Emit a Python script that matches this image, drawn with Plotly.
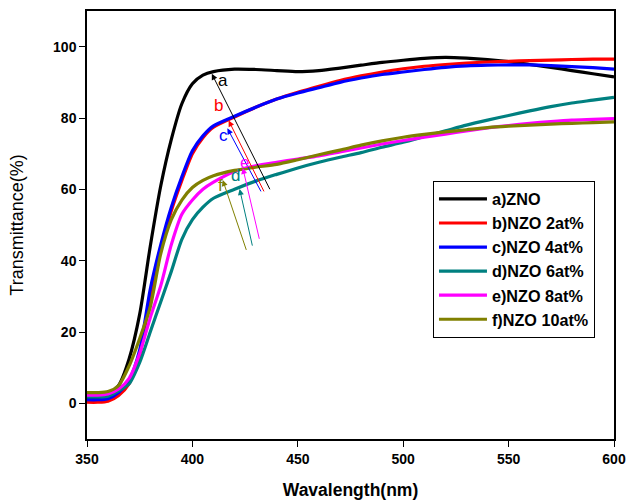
import plotly.graph_objects as go

wavelength = [350, 355, 360, 365, 370, 375, 380, 385, 390, 395, 400, 405, 410, 420, 430, 440,
              450, 460, 470, 480, 490, 500, 510, 520, 530, 540, 550, 560, 570, 580, 590, 600]

t_zno = [1.5, 1.5, 2.2, 5.0, 12.5, 25.0, 44.0, 61.0, 74.0, 84.0, 89.6, 92.0, 93.0, 93.7, 93.6, 93.3,
         93.0, 93.3, 94.0, 94.8, 95.6, 96.2, 96.7, 97.0, 96.8, 96.4, 95.8, 95.0, 94.2, 93.3, 92.4, 91.5]
t_nzo2 = [0.3, 0.3, 0.6, 2.2, 5.5, 13.5, 30.0, 43.0, 54.0, 62.5, 70.0, 74.5, 77.4, 80.3, 83.0, 85.3,
          87.2, 88.9, 90.5, 91.8, 92.9, 93.8, 94.5, 95.0, 95.4, 95.7, 95.9, 96.1, 96.2, 96.4, 96.5, 96.5]
t_nzo4 = [1.0, 1.0, 1.3, 3.0, 6.5, 15.0, 32.0, 44.5, 55.0, 63.5, 70.8, 75.0, 77.8, 80.5, 83.0, 85.3,
          87.0, 88.5, 90.0, 91.2, 92.2, 92.9, 93.6, 94.2, 94.6, 94.8, 94.9, 94.9, 94.7, 94.4, 94.1, 93.7]
t_nzo6 = [1.8, 1.8, 2.0, 3.5, 5.5, 11.5, 20.0, 28.5, 37.0, 46.0, 51.5, 55.0, 57.5, 60.0, 62.3, 64.2,
          66.0, 67.6, 69.0, 70.3, 71.8, 73.2, 74.8, 76.4, 78.0, 79.4, 80.7, 82.0, 83.2, 84.2, 85.0, 85.8]
t_nzo8 = [2.3, 2.3, 2.6, 4.0, 7.0, 14.0, 24.0, 33.0, 44.5, 53.0, 57.0, 60.0, 62.0, 65.0, 66.6, 67.6,
          68.5, 69.4, 70.5, 71.6, 72.7, 73.7, 74.6, 75.5, 76.4, 77.2, 77.9, 78.5, 79.0, 79.4, 79.6, 79.8]
t_nzo10 = [3.0, 3.0, 3.3, 5.0, 10.5, 18.2, 27.0, 42.0, 51.5, 57.0, 60.5, 62.5, 63.8, 65.3, 66.2, 67.0,
           68.3, 69.7, 71.0, 72.4, 73.6, 74.6, 75.4, 76.1, 76.7, 77.3, 77.7, 78.0, 78.3, 78.5, 78.7, 78.9]

series_names = ["a)ZNO", "b)NZO 2at%", "c)NZO 4at%", "d)NZO 6at%", "e)NZO 8at%", "f)NZO 10at%"]
series_values = [t_zno, t_nzo2, t_nzo4, t_nzo6, t_nzo8, t_nzo10]
colors = ["#000000", "#FF0000", "#0000FF", "#008080", "#FF00FF", "#808000"]

x_ticks = [350, 400, 450, 500, 550, 600]
y_ticks = [0, 20, 40, 60, 80, 100]

# label letters, arrow head (x, y), arrow tail (ax, ay), label position (lx, ly)
labels = ["a", "b", "c", "d", "e", "f"]
arrow_heads = [(409.2, 92.4), (417.2, 79.3), (416.6, 77.1), (422.4, 60.1), (423.9, 66.0), (414.4, 62.6)]
arrow_tails = [(437.1, 59.6), (434.3, 59.0), (432.9, 59.0), (428.6, 43.8), (431.9, 45.7), (425.8, 42.6)]
label_pos = [(414.4, 90.4), (412.6, 83.6), (414.8, 75.0), (420.4, 64.0), (424.8, 67.6), (413.2, 61.2)]

FONT = "Arial, Liberation Sans, sans-serif"

fig = go.Figure()
for name, vals, col in zip(series_names, series_values, colors):
    fig.add_trace(go.Scatter(x=wavelength, y=vals, mode="lines", name=name,
                             line=dict(color=col, width=3.2, shape="spline", smoothing=0.7)))

annotations = []
for lab, (hx, hy), (tx, ty), (lx, ly), col in zip(labels, arrow_heads, arrow_tails, label_pos, colors):
    annotations.append(dict(x=hx, y=hy, ax=tx, ay=ty, xref="x", yref="y", axref="x", ayref="y",
                            text="", showarrow=True, arrowhead=2, arrowsize=1.2, arrowwidth=1,
                            arrowcolor=col, standoff=0, startstandoff=0))
    annotations.append(dict(x=lx, y=ly, xref="x", yref="y", text=lab, showarrow=False,
                            font=dict(family=FONT, size=17, color=col)))

fig.update_layout(
    width=628, height=501,
    margin=dict(l=87, r=14, t=11, b=62),
    paper_bgcolor="white", plot_bgcolor="white",
    font=dict(family=FONT, color="black"),
    showlegend=True,
    legend=dict(x=0.6565, y=0.603, xanchor="left", yanchor="top",
                bordercolor="black", borderwidth=1, bgcolor="white",
                font=dict(family=FONT, size=16.2, color="black", weight="bold"),
                tracegroupgap=0, itemwidth=48),
    annotations=annotations,
    xaxis=dict(range=[350, 600], tickvals=x_ticks, ticks="outside", ticklen=6, tickwidth=1.3,
               tickcolor="black", showline=True, linecolor="black", linewidth=1.5, mirror=True,
               showgrid=False, zeroline=False, automargin=False,
               tickfont=dict(family=FONT, size=14, color="black", weight="bold"),
               title=dict(text="Wavalength(nm)", standoff=18,
                          font=dict(family=FONT, size=17.5, color="black", weight="bold"))),
    yaxis=dict(range=[-10, 110], tickvals=y_ticks, ticks="outside", ticklen=6, tickwidth=1.3,
               tickcolor="black", showline=True, linecolor="black", linewidth=1.5, mirror=True,
               showgrid=False, zeroline=False, automargin=False,
               tickfont=dict(family=FONT, size=14, color="black", weight="bold"),
               title=dict(text="Transmittance(%)", standoff=25,
                          font=dict(family=FONT, size=18, color="black"))),
)

fig.write_html("out.html")
